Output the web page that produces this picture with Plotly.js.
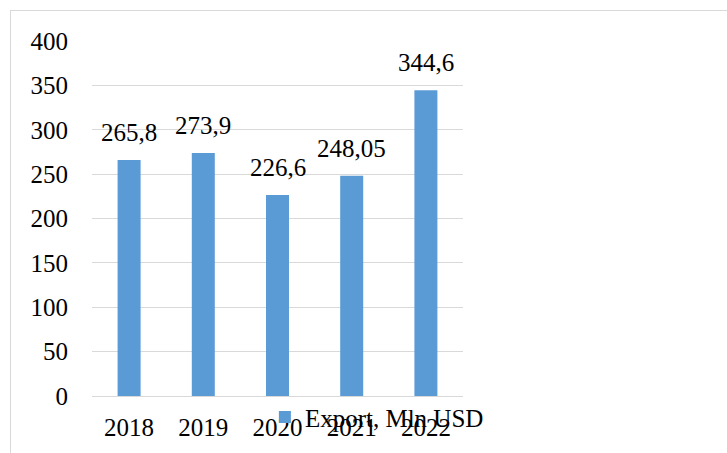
<!DOCTYPE html>
<html>
<head>
<meta charset="utf-8">
<script src="https://cdn.plot.ly/plotly-3.0.1.min.js"></script>
<style>
html,body{margin:0;padding:0;background:#fff;}
#wrap{position:relative;width:727px;height:453px;}
#chart{width:727px;height:453px;}
#frame{position:absolute;left:10px;top:10px;width:717px;height:443px;border-left:1px solid #d9d9d9;border-top:1px solid #d9d9d9;pointer-events:none;}
</style>
</head>
<body>
<div id="wrap"><div id="chart"></div><div id="frame"></div></div>
<script>
const years = ['2018', '2019', '2020', '2021', '2022'];
const exportValues = [265.8, 273.9, 226.6, 248.05, 344.6];
const seriesName = 'Export, Mln USD';
const yTicks = [0, 50, 100, 150, 200, 250, 300, 350, 400];

const fontFam = 'Liberation Serif';
const labels = exportValues.map(v => String(v).replace('.', ','));

const trace = {
  type: 'bar',
  x: years,
  y: exportValues,
  name: seriesName,
  marker: {color: '#5b9bd5'},
  showlegend: true,
  hoverinfo: 'none'
};

// category index positions for annotations (numeric-like category names would be read as indices)
const annotations = years.map((yr, i) => ({
  x: i, y: exportValues[i], xref: 'x', yref: 'y',
  text: labels[i], showarrow: false, yanchor: 'bottom', yshift: 12,
  font: {family: fontFam, size: 25, color: '#000'}
}));

const layout = {
  width: 727, height: 453,
  margin: {l: 92, r: 264, t: 41, b: 57},
  paper_bgcolor: '#fff', plot_bgcolor: '#fff',
  font: {family: fontFam, size: 25, color: '#000'},
  bargap: 0.69,
  xaxis: {
    type: 'category', showgrid: false, showline: false, zeroline: false,
    ticks: '', ticklabelstandoff: 14,
    tickfont: {family: fontFam, size: 25, color: '#000'}
  },
  yaxis: {
    range: [0, 400], tickvals: yTicks, ticktext: yTicks.map(String),
    showgrid: true, gridcolor: '#d9d9d9', gridwidth: 1,
    zeroline: true, zerolinecolor: '#d9d9d9', zerolinewidth: 1,
    showline: false, ticks: 'outside', ticklen: 18, tickcolor: 'rgba(0,0,0,0)',
    tickfont: {family: fontFam, size: 25, color: '#000'}
  },
  showlegend: true,
  legend: {
    orientation: 'h', x: 0.466, xanchor: 'left', y: -0.06, yanchor: 'middle',
    bgcolor: 'rgba(0,0,0,0)', itemwidth: 30,
    font: {family: fontFam, size: 25, color: '#000'}
  },
  annotations: annotations
};

Plotly.newPlot('chart', [trace], layout, {displayModeBar: false, staticPlot: true});
</script>
</body>
</html>
